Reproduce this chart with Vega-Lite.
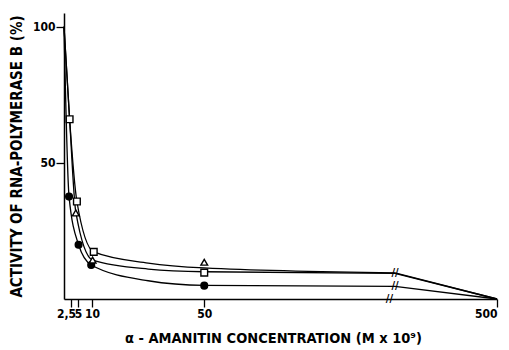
{
  "$schema": "https://vega.github.io/schema/vega-lite/v6.json",
  "width": 433,
  "height": 286,
  "autosize": {"type": "none"},
  "padding": {"left": 64, "top": 13, "right": 12, "bottom": 51},
  "background": "white",
  "config": {
    "view": {"stroke": null},
    "font": "DejaVu Sans Condensed, Liberation Sans, sans-serif",
    "axis": {"domainColor": "black", "tickColor": "black", "labelColor": "black", "titleColor": "black", "grid": false, "domainWidth": 1.5, "tickWidth": 1.3, "tickSize": 8}
  },
  "datasets": {
    "curves": [
      {"series": "circle", "seg": "curve", "conc": 0, "act": 100},
      {"series": "circle", "seg": "curve", "conc": 1.8, "act": 37.6},
      {"series": "circle", "seg": "curve", "conc": 5.2, "act": 19.9},
      {"series": "circle", "seg": "curve", "conc": 9.7, "act": 12.5},
      {"series": "circle", "seg": "curve", "conc": 30, "act": 6.7},
      {"series": "circle", "seg": "curve", "conc": 50, "act": 5.0},
      {"series": "circle", "seg": "curve", "conc": 118, "act": 4.6},
      {"series": "circle", "seg": "tail", "conc": 118, "act": 4.6},
      {"series": "circle", "seg": "tail", "conc": 500, "act": 0},
      {"series": "square", "seg": "curve", "conc": 0, "act": 100},
      {"series": "square", "seg": "curve", "conc": 2, "act": 66},
      {"series": "square", "seg": "curve", "conc": 4.6, "act": 35.8},
      {"series": "square", "seg": "curve", "conc": 10.6, "act": 17.3},
      {"series": "square", "seg": "curve", "conc": 30, "act": 13.2},
      {"series": "square", "seg": "curve", "conc": 50, "act": 11.4},
      {"series": "square", "seg": "curve", "conc": 118, "act": 9.6},
      {"series": "square", "seg": "tail", "conc": 118, "act": 9.6},
      {"series": "square", "seg": "tail", "conc": 500, "act": 0},
      {"series": "triangle", "seg": "curve", "conc": 0, "act": 100},
      {"series": "triangle", "seg": "curve", "conc": 2, "act": 66},
      {"series": "triangle", "seg": "curve", "conc": 4.2, "act": 32},
      {"series": "triangle", "seg": "curve", "conc": 10.2, "act": 14.3},
      {"series": "triangle", "seg": "curve", "conc": 30, "act": 11.0},
      {"series": "triangle", "seg": "curve", "conc": 50, "act": 10.0},
      {"series": "triangle", "seg": "curve", "conc": 118, "act": 9.4},
      {"series": "triangle", "seg": "tail", "conc": 118, "act": 9.4},
      {"series": "triangle", "seg": "tail", "conc": 500, "act": 0}
    ],
    "points": [
      {"series": "square", "conc": 2, "act": 66},
      {"series": "circle", "conc": 1.8, "act": 37.6},
      {"series": "circle", "conc": 5.2, "act": 19.9},
      {"series": "circle", "conc": 9.7, "act": 12.5},
      {"series": "circle", "conc": 50, "act": 4.9},
      {"series": "square", "conc": 4.6, "act": 35.8},
      {"series": "square", "conc": 10.6, "act": 17.3},
      {"series": "square", "conc": 50, "act": 9.7},
      {"series": "triangle", "conc": 4.2, "act": 31.6},
      {"series": "triangle", "conc": 10.2, "act": 14.3},
      {"series": "triangle", "conc": 50, "act": 13.5}
    ],
    "breaks": [
      {"conc": 118, "act": 9.6},
      {"conc": 118, "act": 4.8},
      {"conc": 116, "act": 0}
    ]
  },
  "layer": [
    {
      "data": {"name": "curves"},
      "transform": [{"filter": "datum.seg == 'curve'"}],
      "mark": {"type": "line", "interpolate": "monotone", "color": "black", "strokeWidth": 1.3},
      "encoding": {
        "x": {"field": "conc", "type": "quantitative", "scale": {"domain": [0, 118, 500], "range": [0, 331, 433]},
          "axis": {"values": [2.5, 5, 10, 50, 500], "labelExpr": "datum.value == 2.5 ? '2,5' : datum.label", "labelOverlap": false, "labelFontSize": 12, "labelFontWeight": "bold", "labelPadding": 1,
            "labelOffset": {"condition": {"test": "datum.value == 2.5", "value": -5}, "value": 0},
            "title": "α - AMANITIN CONCENTRATION (M x 10⁹)", "titleFontSize": 14.5, "titleFontWeight": "bold", "titlePadding": 12, "titleX": 209, "titleAlign": "center"}},
        "y": {"field": "act", "type": "quantitative", "scale": {"domain": [0, 105], "nice": false},
          "axis": {"values": [50, 100], "labelFontSize": 12, "labelFontWeight": "bold", "labelPadding": 1,
            "title": "ACTIVITY OF RNA-POLYMERASE  B (%)", "titleFontSize": 15, "titleFontWeight": "bold", "titlePadding": 8}},
        "detail": {"field": "series"}
      }
    },
    {
      "data": {"name": "curves"},
      "transform": [{"filter": "datum.seg == 'tail'"}],
      "mark": {"type": "line", "interpolate": "linear", "color": "black", "strokeWidth": 1.3},
      "encoding": {
        "x": {"field": "conc", "type": "quantitative"},
        "y": {"field": "act", "type": "quantitative"},
        "detail": {"field": "series"}
      }
    },
    {
      "data": {"name": "points"},
      "mark": {"type": "point", "color": "black", "strokeWidth": 1.4, "opacity": 1},
      "encoding": {
        "x": {"field": "conc", "type": "quantitative"},
        "y": {"field": "act", "type": "quantitative"},
        "shape": {"field": "series", "type": "nominal", "scale": {"domain": ["circle", "square", "triangle"], "range": ["circle", "square", "triangle-up"]}, "legend": null},
        "fill": {"field": "series", "type": "nominal", "scale": {"domain": ["circle", "square", "triangle"], "range": ["black", "white", "white"]}, "legend": null},
        "size": {"value": 45}
      }
    },
    {
      "data": {"name": "breaks"},
      "mark": {"type": "text", "text": "//", "fontSize": 11, "fontWeight": "bold", "color": "black", "baseline": "middle", "align": "center"},
      "encoding": {
        "x": {"field": "conc", "type": "quantitative"},
        "y": {"field": "act", "type": "quantitative"}
      }
    }
  ]
}
